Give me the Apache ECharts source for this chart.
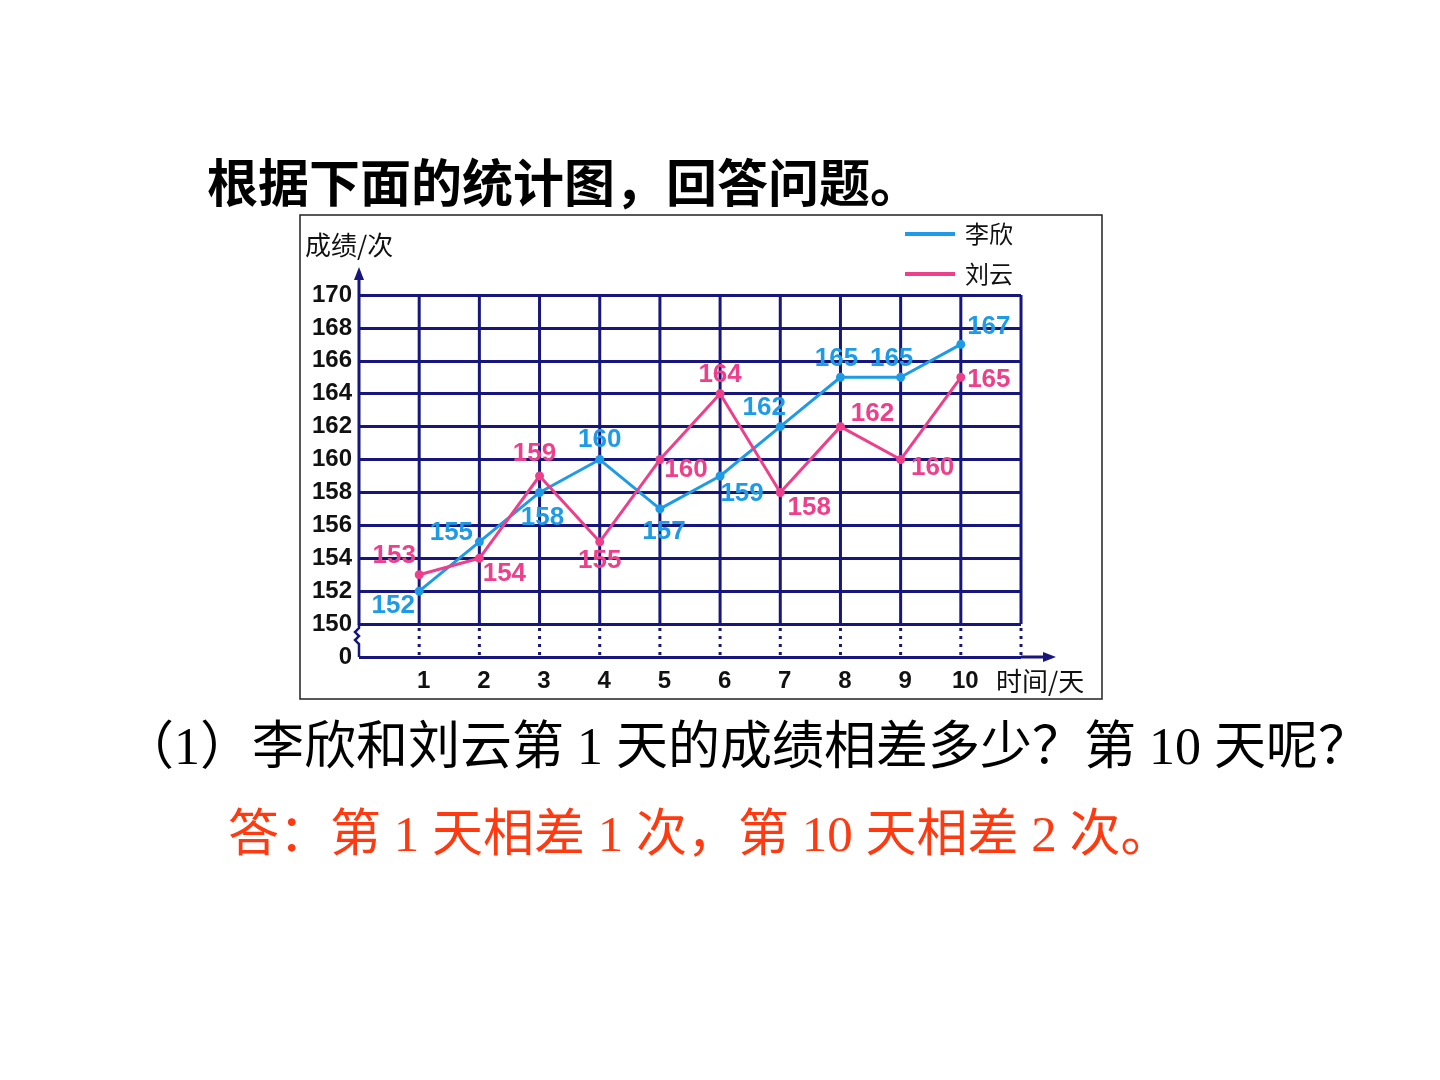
<!DOCTYPE html>
<html>
<head>
<meta charset="utf-8">
<script src="https://cdn.jsdelivr.net/npm/echarts@6/dist/echarts.min.js"></script>
<style>html,body{margin:0;padding:0;background:#fff}#c{width:1440px;height:1080px}</style>
</head>
<body>
<div id="c"></div>
<script>
// ---- data ----
const days = [1, 2, 3, 4, 5, 6, 7, 8, 9, 10];
const liXin = [152, 155, 158, 160, 157, 159, 162, 165, 165, 167];
const liuYun = [153, 154, 159, 155, 160, 164, 158, 162, 160, 165];
const seriesNames = ['李欣', '刘云'];
const yMin = 148, yBreak = 150, yMax = 170, yStep = 2;
const xMin = 0, xMax = 11;

// ---- styling / layout (label offsets in px) ----
const liXinLabelOffsets = [[-26,15],[-28,-9],[3,25],[0,-20],[4,23],[22,18],[-16,-19],[-4,-18],[-9,-18],[28,-18]];
const liuYunLabelOffsets = [[-25,-19],[25,16],[-5,-22],[0,19],[26,10],[0,-19],[29,15],[32,-13],[32,8],[28,3]];
const BLUE = '#1E9BE6', PINK = '#EE3F8B', NAVY = '#16167c';
const LATIN = '"Liberation Sans", Arial, sans-serif';
const CJK = '"Noto Sans CJK SC", sans-serif';
const SERIF_CJK = '"Liberation Serif", "Noto Sans CJK SC", serif';

function buildData(vals, offs) {
  return days.map((d, i) => ({ value: [d, vals[i]], label: { offset: offs[i] } }));
}

function renderDecor(params, api) {
  const c = (x, y) => api.coord([x, y]);
  const kids = [];
  for (let k = xMin + 1; k <= xMax; k++) {
    const a = c(k, yBreak), b = c(k, yMax), z = c(k, yMin);
    kids.push({ type: 'line', shape: { x1: a[0], y1: a[1], x2: b[0], y2: b[1] }, style: { stroke: NAVY, lineWidth: 3 } });
    kids.push({ type: 'line', shape: { x1: a[0], y1: a[1] + 4, x2: z[0], y2: z[1] - 2 }, style: { stroke: NAVY, lineWidth: 3, lineDash: [3, 5], lineCap: 'butt' } });
  }
  // y axis with break zigzag and arrow
  const y0 = c(xMin, yMin), yb = c(xMin, yBreak), yt = c(xMin, yMax);
  const tipY = yt[1] - 28;
  kids.push({ type: 'line', shape: { x1: yb[0], y1: yb[1] + 1, x2: yb[0], y2: tipY + 8 }, style: { stroke: NAVY, lineWidth: 3 } });
  kids.push({ type: 'polygon', shape: { points: [[yb[0], tipY], [yb[0] - 5, tipY + 13], [yb[0] + 5, tipY + 13]] }, style: { fill: NAVY } });
  kids.push({ type: 'polyline', shape: { points: [[yb[0], yb[1]], [yb[0], yb[1] + 4], [yb[0] - 4, yb[1] + 8], [yb[0], yb[1] + 12], [yb[0] - 4, yb[1] + 16], [yb[0], yb[1] + 20], [y0[0], y0[1]]] }, style: { stroke: NAVY, lineWidth: 2.5, fill: null } });
  // x axis extension + arrow
  const xe = c(xMax, yMin);
  const tipX = xe[0] + 35;
  kids.push({ type: 'line', shape: { x1: xe[0], y1: xe[1], x2: tipX - 8, y2: xe[1] }, style: { stroke: NAVY, lineWidth: 3 } });
  kids.push({ type: 'polygon', shape: { points: [[tipX, xe[1]], [tipX - 13, xe[1] - 5], [tipX - 13, xe[1] + 5]] }, style: { fill: NAVY } });
  return { type: 'group', children: kids };
}

const labelStyle = (color) => ({ show: true, position: 'inside', color: color, fontSize: 26, fontWeight: 'bold', fontFamily: LATIN, formatter: p => p.value[1] });

const chart = echarts.init(document.getElementById('c'), null, { renderer: 'canvas' });
chart.setOption({
  backgroundColor: '#ffffff',
  animation: false,
  grid: { left: 359, right: 419, top: 295, bottom: 423 },
  legend: {
    data: seriesNames, orient: 'vertical', left: 905, top: 222, padding: 0,
    itemWidth: 50, itemHeight: 4, itemGap: 16, icon: 'rect',
    textStyle: { fontSize: 24, lineHeight: 24, color: '#111', fontFamily: CJK, padding: [0, 0, 0, 5] }
  },
  xAxis: {
    type: 'value', min: xMin, max: xMax, interval: 1,
    axisLine: { show: false }, axisTick: { show: false }, splitLine: { show: false },
    axisLabel: { margin: 12, fontSize: 24, fontWeight: 'bold', color: '#111', fontFamily: LATIN, padding: [0, 0, 0, 9],
      formatter: v => (v >= 1 && v <= 10 ? String(v) : '') }
  },
  yAxis: {
    type: 'value', min: yMin, max: yMax, interval: yStep,
    axisLine: { show: false }, axisTick: { show: false },
    splitLine: { show: true, lineStyle: { color: NAVY, width: 3 } },
    axisLabel: { margin: 7, fontSize: 24, fontWeight: 'bold', color: '#111', fontFamily: LATIN,
      formatter: v => (v === yMin ? '0' : String(v)) }
  },
  graphic: [
    { type: 'rect', shape: { x: 300, y: 215, width: 802, height: 484 }, style: { fill: null, stroke: '#222', lineWidth: 1.5 }, z: 0 },
    { type: 'text', x: 207, y: 183, style: { text: '根据下面的统计图，回答问题。', font: 'bold 51px ' + CJK, fill: '#000', verticalAlign: 'middle' } },
    { type: 'text', x: 305, y: 245, style: { text: '成绩/次', font: '26px ' + CJK, fill: '#111', verticalAlign: 'middle' } },
    { type: 'text', x: 996, y: 681, style: { text: '时间/天', font: '26px ' + CJK, fill: '#111', verticalAlign: 'middle' } },
    { type: 'text', x: 122, y: 750, style: { text: '（1）李欣和刘云第 1 天的成绩相差多少？第 10 天呢？', font: '52px ' + SERIF_CJK, fill: '#000', verticalAlign: 'middle' } },
    { type: 'text', x: 228, y: 838, style: { text: '答：第 1 天相差 1 次，第 10 天相差 2 次。', font: '51px ' + SERIF_CJK, fill: '#ff3a10', verticalAlign: 'middle' } }
  ],
  series: [
    { type: 'custom', name: 'decor', silent: true, clip: false, z: 1, renderItem: renderDecor, data: [[xMin, yMin]] },
    { type: 'line', name: seriesNames[0], z: 3, data: buildData(liXin, liXinLabelOffsets),
      lineStyle: { color: BLUE, width: 3 }, itemStyle: { color: BLUE }, symbol: 'circle', symbolSize: 9,
      label: labelStyle(BLUE) },
    { type: 'line', name: seriesNames[1], z: 4, data: buildData(liuYun, liuYunLabelOffsets),
      lineStyle: { color: PINK, width: 3 }, itemStyle: { color: PINK }, symbol: 'circle', symbolSize: 9,
      label: labelStyle(PINK) }
  ]
});
</script>
</body>
</html>
